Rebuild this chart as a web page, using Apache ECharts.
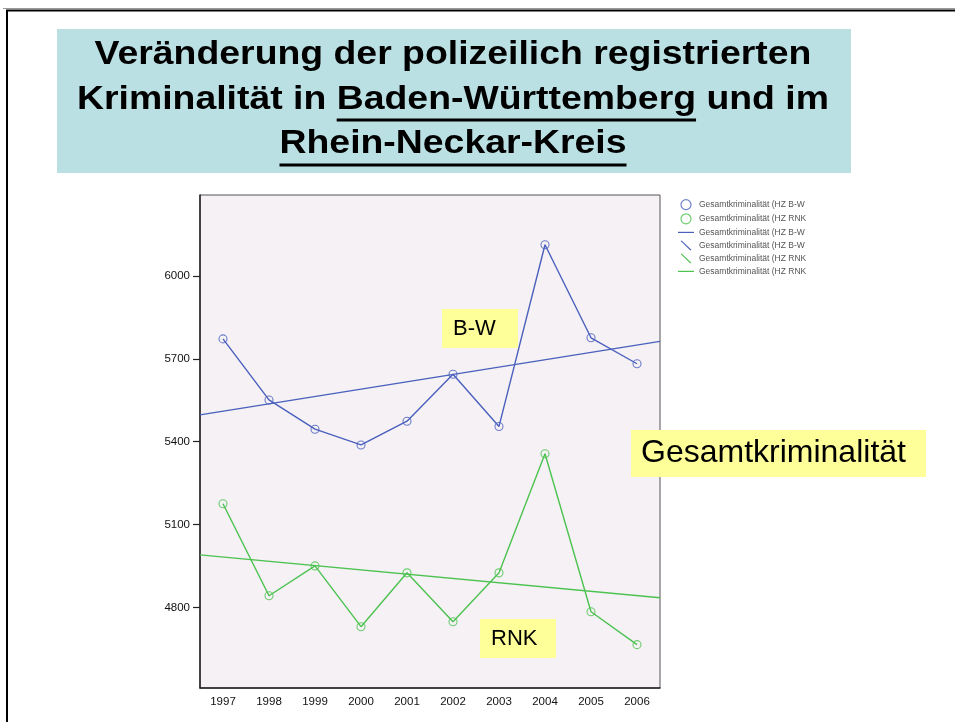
<!DOCTYPE html>
<html><head><meta charset="utf-8">
<script src="https://cdn.jsdelivr.net/npm/echarts@6/dist/echarts.min.js"></script>
<style>html,body{margin:0;padding:0;background:#fff}#c{width:955px;height:722px}</style>
</head><body><div id="c"></div>
<script>
// ---- data ----
const years = ['1997','1998','1999','2000','2001','2002','2003','2004','2005','2006'];
const bwValues  = [5772, 5551, 5445, 5388, 5474, 5644, 5455, 6113, 5776, 5682];
const rnkValues = [5175, 4842, 4950, 4730, 4925, 4748, 4925, 5356, 4784, 4665];
const trendX   = [1996.5, 2006.5];
const bwTrend  = [5497, 5763];
const rnkTrend = [4990, 4835];
const yTicks = [4800, 5100, 5400, 5700, 6000];
const yMin = 4508, yMax = 6293;
const legendBase = ['Gesamtkriminalität (HZ B-W', 'Gesamtkriminalität (HZ RNK'];
const titleLine1 = 'Veränderung der polizeilich registrierten';
const titleLine2a = 'Kriminalität in ', titleLine2b = 'Baden-Württemberg', titleLine2c = ' und im';
const titleLine3 = 'Rhein-Neckar-Kreis';
const labelBW = 'B-W', labelRNK = 'RNK', labelTotal = 'Gesamtkriminalität';

// ---- style ----
const BLUE = '#4a60bd', GREEN = '#4cc24f';
const FONT = '"Liberation Sans", Arial, sans-serif';
const Z = '\u200b';
const n1 = legendBase[0], n2 = legendBase[1];
const n3 = legendBase[0] + Z, n4 = legendBase[0] + Z + Z;
const n5 = legendBase[1] + Z, n6 = legendBase[1] + Z + Z;

const chart = echarts.init(document.getElementById('c'), null, {renderer: 'canvas'});

// title measurement for underlines
const TSIZE = 33, TSCALE = 1.133, TCX = 453;
const mctx = document.createElement('canvas').getContext('2d');
mctx.font = 'bold ' + TSIZE + 'px "Liberation Sans"';
const wAll2 = mctx.measureText(titleLine2a + titleLine2b + titleLine2c).width * TSCALE;
const wPre2 = mctx.measureText(titleLine2a).width * TSCALE;
const wB2 = mctx.measureText(titleLine2b).width * TSCALE;
const w3 = mctx.measureText(titleLine3).width * TSCALE;
const ul2x = TCX - wAll2 / 2 + wPre2;

function titleText(t, y) {
  return { type: 'text', x: TCX, y: y, scaleX: TSCALE, z: 10,
    style: { text: t, font: 'bold ' + TSIZE + 'px ' + FONT, fill: '#000', align: 'center', verticalAlign: 'middle' } };
}
function boxLabel(t, x, y, w, h, size, padL) {
  return [
    { type: 'rect', z: 100, shape: { x: x, y: y, width: w, height: h }, style: { fill: '#ffff99' } },
    { type: 'text', z: 101, x: x + padL, y: y + h / 2,
      style: { text: t, font: size + 'px ' + FONT, fill: '#000', align: 'left', verticalAlign: 'middle' } }
  ];
}

const linePath = 'path://M0,0 M16,10 M0,4.4 L16,4.4 L16,5.6 L0,5.6 Z';
const diagPath = 'path://M0,0 M16,10 M2.6,0.6 L3.6,0 L13.4,9.4 L12.4,10 Z';

const option = {
  backgroundColor: '#fff',
  animation: false,
  textStyle: { fontFamily: FONT },
  grid: { left: 200, top: 195, width: 460, height: 493, show: true,
    backgroundColor: '#f5f1f5', borderColor: '#555', borderWidth: 1 },
  legend: {
    orient: 'vertical', left: 678, top: 199, itemWidth: 16, itemHeight: 10, itemGap: 3,
    padding: 0,
    formatter: n => n.replace(/\u200b/g, ''),
    textStyle: { fontSize: 8.5, color: '#555', fontFamily: FONT },
    data: [
      { name: n1, icon: 'circle', itemStyle: { color: 'rgba(0,0,0,0)', borderColor: BLUE, borderWidth: 1.2 } },
      { name: n2, icon: 'circle', itemStyle: { color: 'rgba(0,0,0,0)', borderColor: GREEN, borderWidth: 1.2 } },
      { name: n3, icon: linePath },
      { name: n4, icon: diagPath },
      { name: n5, icon: diagPath },
      { name: n6, icon: linePath }
    ]
  },
  xAxis: [
    { type: 'category', data: years, boundaryGap: true,
      axisLine: { lineStyle: { color: '#222', width: 1.5 } },
      axisTick: { alignWithLabel: true, length: 7, lineStyle: { color: '#222', width: 1.2 } },
      axisLabel: { fontSize: 11.5, color: '#111', margin: 8, fontFamily: FONT },
      splitLine: { show: false } },
    { type: 'value', min: trendX[0], max: trendX[1], show: false }
  ],
  yAxis: {
    type: 'value', min: yMin, max: yMax,
    axisLine: { show: true, lineStyle: { color: '#222', width: 1.5 } },
    axisTick: { show: true, length: 7, customValues: yTicks, lineStyle: { color: '#222', width: 1.2 } },
    axisLabel: { fontSize: 11.5, color: '#111', margin: 10, customValues: yTicks, fontFamily: FONT,
      formatter: v => String(v) },
    splitLine: { show: false }
  },
  series: [
    { name: n1, type: 'scatter', xAxisIndex: 0, data: bwValues, symbol: 'circle', symbolSize: 8,
      itemStyle: { color: 'rgba(0,0,0,0)', borderColor: BLUE, borderWidth: 1.1 }, z: 4 },
    { name: n2, type: 'scatter', xAxisIndex: 0, data: rnkValues, symbol: 'circle', symbolSize: 8,
      itemStyle: { color: 'rgba(0,0,0,0)', borderColor: GREEN, borderWidth: 1.1 }, z: 4 },
    { name: n3, type: 'line', xAxisIndex: 1, data: trendX.map((x, i) => [x, bwTrend[i]]), showSymbol: false,
      lineStyle: { color: BLUE, width: 1.4 }, itemStyle: { color: BLUE } },
    { name: n4, type: 'line', xAxisIndex: 0, data: bwValues, showSymbol: false,
      lineStyle: { color: BLUE, width: 1.4 }, itemStyle: { color: BLUE } },
    { name: n5, type: 'line', xAxisIndex: 0, data: rnkValues, showSymbol: false,
      lineStyle: { color: GREEN, width: 1.4 }, itemStyle: { color: GREEN } },
    { name: n6, type: 'line', xAxisIndex: 1, data: trendX.map((x, i) => [x, rnkTrend[i]]), showSymbol: false,
      lineStyle: { color: GREEN, width: 1.4 }, itemStyle: { color: GREEN } }
  ],
  graphic: [
    { type: 'line', shape: { x1: 3, y1: 8.5, x2: 955, y2: 8.5 }, style: { stroke: '#999', lineWidth: 1 } },
    { type: 'rect', shape: { x: 7, y: 10.5, width: 1000, height: 800 }, style: { fill: 'none', stroke: '#000', lineWidth: 2 } },
    { type: 'rect', z: 5, shape: { x: 57, y: 29, width: 794, height: 144 }, style: { fill: '#bbe0e3' } },
    titleText(titleLine1, 55),
    titleText(titleLine2a + titleLine2b + titleLine2c, 100),
    titleText(titleLine3, 144),
    { type: 'rect', z: 10, shape: { x: ul2x, y: 118.5, width: wB2, height: 3 }, style: { fill: '#000' } },
    { type: 'rect', z: 10, shape: { x: TCX - w3 / 2, y: 163.5, width: w3, height: 3 }, style: { fill: '#000' } },
    ...boxLabel(labelBW, 442, 309, 76, 39, 22, 11),
    ...boxLabel(labelRNK, 480, 619, 76, 39, 22, 11),
    ...boxLabel(labelTotal, 631, 430, 295, 47, 32, 10)
  ]
};
chart.setOption(option);
</script>
</body></html>
